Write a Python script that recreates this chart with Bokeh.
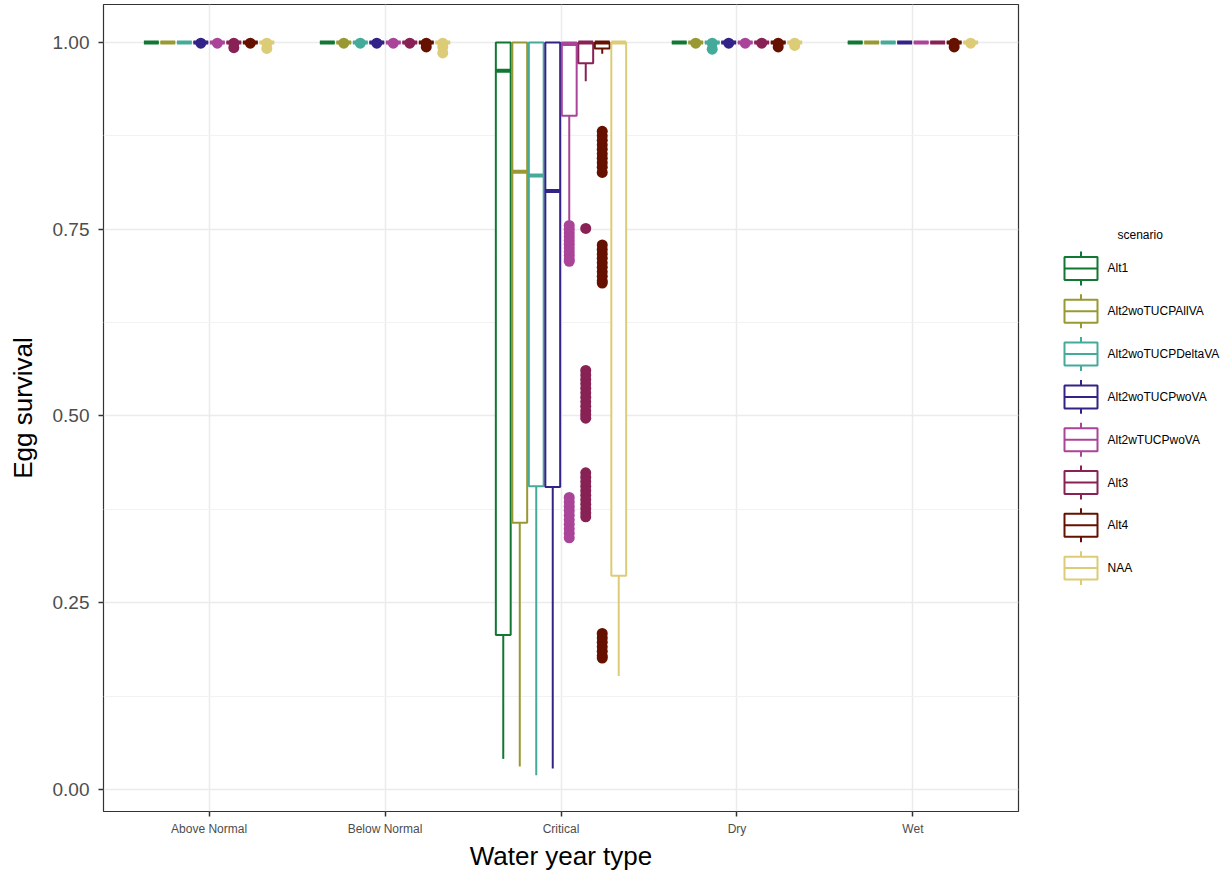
from bokeh.plotting import figure
from bokeh.layouts import row
from bokeh.models import FixedTicker, Range1d
from bokeh.core.properties import value
from bokeh.embed import file_html
from bokeh.resources import INLINE

# ---------------- data ----------------
water_years = ["Above Normal", "Below Normal", "Critical", "Dry", "Wet"]
scenarios = ["Alt1", "Alt2woTUCPAllVA", "Alt2woTUCPDeltaVA", "Alt2woTUCPwoVA",
             "Alt2wTUCPwoVA", "Alt3", "Alt4", "NAA"]
colors = ["#117733", "#999933", "#44AA99", "#332288",
          "#AA4499", "#882255", "#661100", "#DDCC77"]

# box statistics: one row per water year, one column per scenario
box_low = [  # lower whisker end
    [1.0, 1.0, 1.0, 1.0, 1.0, 1.0, 1.0, 1.0],
    [1.0, 1.0, 1.0, 1.0, 1.0, 1.0, 1.0, 1.0],
    [0.041, 0.031, 0.019, 0.028, 0.762, 0.948, 0.985, 0.152],
    [1.0, 1.0, 1.0, 1.0, 1.0, 1.0, 1.0, 1.0],
    [1.0, 1.0, 1.0, 1.0, 1.0, 1.0, 1.0, 1.0],
]
box_q1 = [
    [1.0, 1.0, 1.0, 1.0, 1.0, 1.0, 1.0, 1.0],
    [1.0, 1.0, 1.0, 1.0, 1.0, 1.0, 1.0, 1.0],
    [0.207, 0.357, 0.406, 0.405, 0.902, 0.972, 0.992, 0.286],
    [1.0, 1.0, 1.0, 1.0, 1.0, 1.0, 1.0, 1.0],
    [1.0, 1.0, 1.0, 1.0, 1.0, 1.0, 1.0, 1.0],
]
box_median = [
    [1.0, 1.0, 1.0, 1.0, 1.0, 1.0, 1.0, 1.0],
    [1.0, 1.0, 1.0, 1.0, 1.0, 1.0, 1.0, 1.0],
    [0.962, 0.827, 0.822, 0.801, 0.998, 1.0, 1.0, 1.0],
    [1.0, 1.0, 1.0, 1.0, 1.0, 1.0, 1.0, 1.0],
    [1.0, 1.0, 1.0, 1.0, 1.0, 1.0, 1.0, 1.0],
]
box_q3 = [
    [1.0, 1.0, 1.0, 1.0, 1.0, 1.0, 1.0, 1.0],
    [1.0, 1.0, 1.0, 1.0, 1.0, 1.0, 1.0, 1.0],
    [1.0, 1.0, 1.0, 1.0, 1.0, 1.0, 1.0, 1.0],
    [1.0, 1.0, 1.0, 1.0, 1.0, 1.0, 1.0, 1.0],
    [1.0, 1.0, 1.0, 1.0, 1.0, 1.0, 1.0, 1.0],
]
box_high = [  # upper whisker end
    [1.0, 1.0, 1.0, 1.0, 1.0, 1.0, 1.0, 1.0],
    [1.0, 1.0, 1.0, 1.0, 1.0, 1.0, 1.0, 1.0],
    [1.0, 1.0, 1.0, 1.0, 1.0, 1.0, 1.0, 1.0],
    [1.0, 1.0, 1.0, 1.0, 1.0, 1.0, 1.0, 1.0],
    [1.0, 1.0, 1.0, 1.0, 1.0, 1.0, 1.0, 1.0],
]

# outliers per water year and scenario
outliers_above_normal = {
    "Alt2woTUCPwoVA": [0.999], "Alt2wTUCPwoVA": [0.999],
    "Alt3": [0.999, 0.993], "Alt4": [0.999], "NAA": [0.999, 0.992],
}
outliers_below_normal = {
    "Alt2woTUCPAllVA": [0.999], "Alt2woTUCPDeltaVA": [0.999],
    "Alt2woTUCPwoVA": [0.999], "Alt2wTUCPwoVA": [0.999], "Alt3": [0.999],
    "Alt4": [0.999, 0.994], "NAA": [0.999, 0.994, 0.986],
}
outliers_critical = {
    "Alt2wTUCPwoVA": [0.755, 0.750, 0.745, 0.740, 0.735, 0.730, 0.725, 0.720,
                      0.715, 0.710, 0.707, 0.391, 0.385, 0.379, 0.373, 0.367,
                      0.361, 0.355, 0.349, 0.343, 0.337],
    "Alt3": [0.751, 0.561, 0.555, 0.549, 0.543, 0.537, 0.531, 0.525, 0.519,
             0.513, 0.507, 0.502, 0.497, 0.424, 0.418, 0.412, 0.406, 0.400,
             0.394, 0.388, 0.382, 0.376, 0.370, 0.365],
    "Alt4": [0.881, 0.875, 0.869, 0.863, 0.857, 0.851, 0.845, 0.839, 0.833,
             0.826, 0.729, 0.723, 0.717, 0.711, 0.705, 0.699, 0.693, 0.687,
             0.681, 0.678, 0.209, 0.203, 0.197, 0.191, 0.185, 0.179, 0.176],
}
outliers_dry = {
    "Alt2woTUCPAllVA": [0.999], "Alt2woTUCPDeltaVA": [0.999, 0.991],
    "Alt2woTUCPwoVA": [0.999], "Alt2wTUCPwoVA": [0.999], "Alt3": [0.999],
    "Alt4": [0.999, 0.994], "NAA": [0.999, 0.996],
}
outliers_wet = {
    "Alt4": [0.999, 0.994], "NAA": [0.999],
}
outliers_by_year = [outliers_above_normal, outliers_below_normal,
                    outliers_critical, outliers_dry, outliers_wet]

y_ticks = [0.0, 0.25, 0.5, 0.75, 1.0]
y_minor = [0.125, 0.375, 0.625, 0.875]

# ---------------- figure ----------------
FONT = "Liberation Sans"
slot = 0.75 / len(scenarios)
half = slot * 0.45
TOP, BOTTOM = 4, 61

p = figure(width=1040, height=873, x_range=Range1d(0.4, 5.6),
           y_range=Range1d(-0.0294, 1.0508), output_backend="svg",
           toolbar_location=None, min_border_left=103, min_border_right=22,
           min_border_top=TOP, min_border_bottom=BOTTOM)
p.outline_line_color = "#333333"
p.outline_line_width = 1.2

for si, (scen, col) in enumerate(zip(scenarios, colors)):
    xs = [yi + 1 + (si - 3.5) * slot for yi in range(len(water_years))]
    lo = [box_low[yi][si] for yi in range(len(water_years))]
    q1 = [box_q1[yi][si] for yi in range(len(water_years))]
    md = [box_median[yi][si] for yi in range(len(water_years))]
    q3 = [box_q3[yi][si] for yi in range(len(water_years))]
    hi = [box_high[yi][si] for yi in range(len(water_years))]
    ox, oy = [], []
    for yi, od in enumerate(outliers_by_year):
        for v in od.get(scen, []):
            ox.append(yi + 1 + (si - 3.5) * slot)
            oy.append(v)
    if ox:
        p.scatter(ox, oy, size=11, fill_color=col, line_color=None)
    p.segment(xs, lo, xs, q1, line_color=col, line_width=2)
    p.segment(xs, q3, xs, hi, line_color=col, line_width=2)
    p.quad(left=[x - half for x in xs], right=[x + half for x in xs],
           bottom=q1, top=q3, fill_color="white", line_color=col, line_width=2)
    p.segment([x - half for x in xs], md, [x + half for x in xs], md,
              line_color=col, line_width=4)

# axes
p.xaxis.ticker = FixedTicker(ticks=[1, 2, 3, 4, 5])
p.xaxis.major_label_overrides = {i + 1: n for i, n in enumerate(water_years)}
p.yaxis.ticker = FixedTicker(ticks=y_ticks, minor_ticks=y_minor)
p.yaxis.major_label_overrides = {t: f"{t:.2f}" for t in y_ticks}
for ax in (p.xaxis[0], p.yaxis[0]):
    ax.axis_line_color = None
    ax.major_tick_line_color = "#333333"
    ax.major_tick_line_width = 1.5
    ax.major_tick_out = 5
    ax.major_tick_in = 0
    ax.minor_tick_line_color = None
    ax.major_label_text_color = "#4D4D4D"
    ax.major_label_text_font = FONT
    ax.axis_label_text_font = FONT
    ax.axis_label_text_font_style = "normal"
    ax.axis_label_text_color = "black"
    ax.axis_label_text_font_size = "26px"
p.xaxis.axis_label = "Water year type"
p.yaxis.axis_label = "Egg survival"
p.xaxis.major_label_text_font_size = "12px"
p.yaxis.major_label_text_font_size = "19px"
p.xaxis.major_label_standoff = 5
p.yaxis.major_label_standoff = 9
p.xaxis.axis_label_standoff = 2
p.yaxis.axis_label_standoff = 12

p.xgrid.grid_line_color = "#EBEBEB"
p.xgrid.grid_line_width = 1.5
p.ygrid.grid_line_color = "#EBEBEB"
p.ygrid.grid_line_width = 1.5
p.ygrid.minor_grid_line_color = "#F2F2F2"
p.ygrid.minor_grid_line_width = 1

# ---------------- legend (separate panel, pixel coordinates) ----------------
LW, LH = 188, 873
leg = figure(width=LW, height=LH, x_range=Range1d(0, LW),
             y_range=Range1d(LH - BOTTOM, TOP),
             output_backend="svg", toolbar_location=None,
             x_axis_type=None, y_axis_type=None,
             min_border_left=0, min_border_right=0,
             min_border_top=TOP, min_border_bottom=BOTTOM)
leg.outline_line_color = None
leg.grid.visible = False

leg.text([77], [235], text=["scenario"], text_font=value(FONT),
         text_font_size="12px", text_baseline="middle", text_color="black")
key_y = [268.3 + i * 42.86 for i in range(len(scenarios))]
bx0, bx1 = 24, 57
bxc = (bx0 + bx1) / 2
leg.quad(left=[bx0] * len(key_y), right=[bx1] * len(key_y),
         top=[y - 11.5 for y in key_y], bottom=[y + 11.5 for y in key_y],
         fill_color="white", line_color=colors, line_width=2)
leg.segment([bx0] * len(key_y), key_y, [bx1] * len(key_y), key_y,
            line_color=colors, line_width=2)
leg.segment([bxc] * len(key_y), [y - 17 for y in key_y], [bxc] * len(key_y),
            [y - 11.5 for y in key_y], line_color=colors, line_width=2)
leg.segment([bxc] * len(key_y), [y + 11.5 for y in key_y], [bxc] * len(key_y),
            [y + 17 for y in key_y], line_color=colors, line_width=2)
leg.text([67] * len(key_y), key_y, text=scenarios, text_font=value(FONT),
         text_font_size="12px", text_baseline="middle", text_color="black")

layout = row(p, leg)
open("out.html", "w").write(file_html(layout, INLINE))
